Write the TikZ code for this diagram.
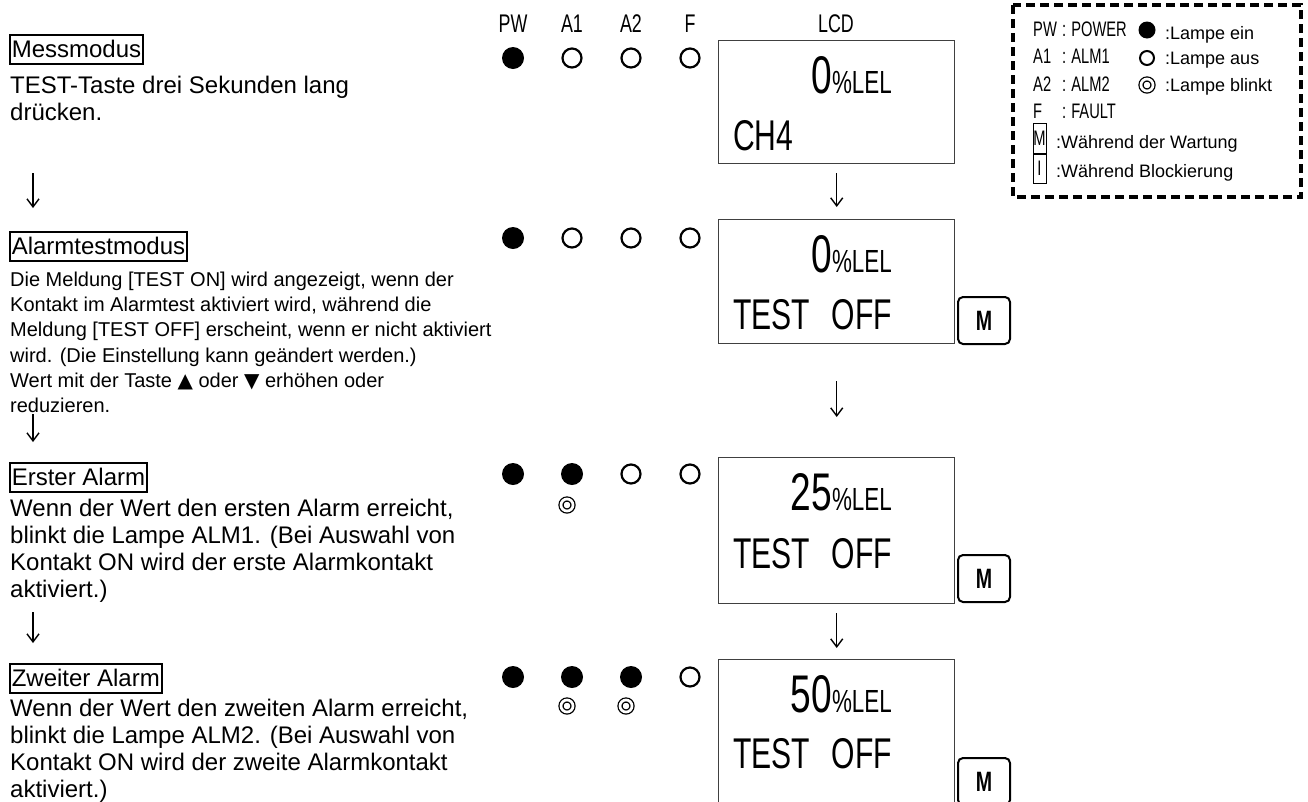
\documentclass[tikz,border=0pt]{standalone}
\usepackage{fontspec}
\setmainfont{Liberation Sans}
\newfontfamily\lcdfont[FakeStretch=0.7]{Liberation Sans}
\newfontfamily\symfont{DejaVu Sans}
\usetikzlibrary{arrows.meta}

\newcommand{\lel}{{\fontsize{32}{32}\selectfont\%LEL}}

\begin{document}
\begin{tikzpicture}[
            x=1pt, y=-1pt,
            header/.style={draw=black, line width=1.6pt, anchor=base west, inner xsep=2pt, inner ysep=0pt, text height=22pt, text depth=7pt, font=\fontsize{24}{27}\selectfont},
            bodytext/.style={anchor=north west, align=left, inner sep=0pt, font=\fontsize{24}{27}\selectfont},
            smalltext/.style={anchor=north west, align=left, inner sep=0pt, font=\fontsize{20}{25.2}\selectfont},
            column/.style={anchor=base, inner sep=0pt, font=\lcdfont\fontsize{25.5}{26}\selectfont},
            lcdbox/.style={draw=darkgray, line width=1.4pt, anchor=north west, inner sep=0pt, minimum width=236pt},
            lcdvalue/.style={anchor=base east, inner sep=0pt, font=\lcdfont\fontsize{53}{53}\selectfont},
            lcdline/.style={anchor=base west, inner sep=0pt, font=\lcdfont\fontsize{43}{43}\selectfont},
            keybox/.style={draw=black, line width=2pt, rounded corners=5pt, anchor=north west, minimum width=52pt, minimum height=47pt, inner sep=0pt, font=\lcdfont\bfseries\fontsize{28}{28}\selectfont},
            lampon/.style={circle, fill=black, minimum size=22pt, inner sep=0pt},
            lampoff/.style={circle, draw=black, line width=2.2pt, minimum size=19pt, inner sep=0pt},
            lampblink/.style={circle, draw=black, line width=1.3pt, double, double distance=2.7pt, minimum size=12pt, inner sep=0pt},
            flow/.style={line width=1.4pt, -{Straight Barb[length=8pt, width=12pt, line width=1.4pt]}},
            legendbox/.style={draw=black, line width=3.3pt, dash pattern=on 9pt off 5pt},
            legendtext/.style={anchor=base west, inner sep=0pt, font=\fontsize{18}{20}\selectfont},
            legendlabel/.style={anchor=base west, inner sep=0pt, font=\lcdfont\fontsize{21}{22}\selectfont}
        ]
            \clip (0,0) rectangle (1308,801);
            \fill[white] (0,0) rectangle (1308,801);

            % column heads
            \node[column] (hpw) at (513,32) {PW};
            \node[column] (ha1) at (572,32) {A1};
            \node[column] (ha2) at (631,32) {A2};
            \node[column] (hf) at (690,32) {F};
            \node[column] (hlcd) at (836,32) {LCD};

            % lamps
            \foreach \row/\y/\sa/\sb in {1/58/lampoff/lampoff, 2/238/lampoff/lampoff, 3/474/lampon/lampoff, 4/677/lampon/lampon}{
                \node[lampon] (pw\row) at (513,\y) {};
                \node[\sa] (aa\row) at (572,\y) {};
                \node[\sb] (ab\row) at (631,\y) {};
                \node[lampoff] (f\row) at (690,\y) {};
            }
            \node[lampblink] (blk3) at (567,505) {};
            \node[lampblink] (blk4a) at (567,706) {};
            \node[lampblink] (blk4b) at (626,706) {};

            % lcd panels
            \node[lcdbox, minimum height=123pt] (lcd1) at (718,40) {};
            \node[lcdbox, minimum height=124pt] (lcd2) at (718,219) {};
            \node[lcdbox, minimum height=146pt] (lcd3) at (718,457) {};
            \node[lcdbox, minimum height=146pt] (lcd4) at (718,659) {};

            \node[lcdvalue] (val1) at (892,93) {0\lel};
            \node[lcdvalue] (val2) at (892,272) {0\lel};
            \node[lcdvalue] (val3) at (892,510) {25\lel};
            \node[lcdvalue] (val4) at (892,712) {50\lel};
            \node[lcdline] (msg1) at (733,150) {CH4};
            \node[lcdline] (msg2) at (733,329) {TEST\hspace{.5em}OFF};
            \node[lcdline] (msg3) at (733,568) {TEST\hspace{.5em}OFF};
            \node[lcdline] (msg4) at (733,768) {TEST\hspace{.5em}OFF};

            % maintenance keys
            \node[keybox] (key2) at (957,296) {M};
            \node[keybox] (key3) at (957,554) {M};
            \node[keybox] (key4) at (957,757) {M};

            \draw[flow, shorten <=9pt, shorten >=12pt] (lcd1) -- (lcd2);
            \draw[flow, shorten <=37pt, shorten >=40pt] (lcd2) -- (lcd3);
            \draw[flow, shorten <=9pt, shorten >=11pt] (lcd3) -- (lcd4);

            % modes (left column)
            \node[header] (mess) at (9,57) {Messmodus};
            \node[bodytext] (messtext) at (10,75.8) {TEST-Taste drei Sekunden lang\\drücken.};
            \node[header] (test) at (9,254) {Alarmtestmodus};
            \node[smalltext] (testtext) at (10,271.7) {Die Meldung [TEST ON] wird angezeigt, wenn der\\Kontakt im Alarmtest aktiviert wird, während die\\Meldung [TEST OFF] erscheint, wenn er nicht aktiviert\\wird. (Die Einstellung kann geändert werden.)\\Wert mit der Taste {\symfont ▲} oder {\symfont ▼} erhöhen oder\\reduzieren.};
            \node[header] (first) at (9,485) {Erster Alarm};
            \node[bodytext] (firsttext) at (10,498.8) {Wenn der Wert den ersten Alarm erreicht,\\blinkt die Lampe ALM1. (Bei Auswahl von\\Kontakt ON wird der erste Alarmkontakt\\aktiviert.)};
            \node[header] (second) at (9,686) {Zweiter Alarm};
            \node[bodytext] (secondtext) at (10,698.8) {Wenn der Wert den zweiten Alarm erreicht,\\blinkt die Lampe ALM2. (Bei Auswahl von\\Kontakt ON wird der zweite Alarmkontakt\\aktiviert.)};

            \coordinate (l1a) at (33,173);
            \coordinate (l1b) at (33,208);
            \coordinate (l2a) at (33,414);
            \coordinate (l2b) at (33,442);
            \coordinate (l3a) at (33,612);
            \coordinate (l3b) at (33,643);
            \draw[flow] (l1a) -- (l1b);
            \draw[flow] (l2a) -- (l2b);
            \draw[flow] (l3a) -- (l3b);

            % legend
            \draw[legendbox] (1013,5) rectangle (1301,197);
            \node[legendlabel] (lgpw) at (1033,36) {\makebox[29pt][l]{PW}:\hspace{5pt}POWER};
            \node[legendlabel] (lga1) at (1033,63) {\makebox[29pt][l]{A1}:\hspace{5pt}ALM1};
            \node[legendlabel] (lga2) at (1033,91) {\makebox[29pt][l]{A2}:\hspace{5pt}ALM2};
            \node[legendlabel] (lgf) at (1033,118) {\makebox[29pt][l]{F}:\hspace{5pt}FAULT};
            \node[lampon, minimum size=17pt] (lgon) at (1147,30) {};
            \node[lampoff, minimum size=14pt, line width=2pt] (lgoff) at (1147,58) {};
            \node[lampblink] (lgblink) at (1147,85) {};
            \node[legendtext] (lgtxton) at (1165,39) {:Lampe ein};
            \node[legendtext] (lgtxtoff) at (1165,64) {:Lampe aus};
            \node[legendtext] (lgtxtblink) at (1165,91) {:Lampe blinkt};
            \node[draw, line width=0.8pt, minimum width=13pt, minimum height=30pt, inner sep=0pt, font=\lcdfont\fontsize{21}{22}\selectfont] (lgm) at (1039.5,138.5) {M};
            \node[draw, line width=0.8pt, minimum width=13pt, minimum height=29pt, inner sep=0pt, font=\lcdfont\fontsize{21}{22}\selectfont] (lgi) at (1039.5,168.5) {I};
            \node[legendtext] (lgtxtm) at (1056,148) {:Während der Wartung};
            \node[legendtext] (lgtxti) at (1056,177) {:Während Blockierung};

        \end{tikzpicture}
\end{document}
